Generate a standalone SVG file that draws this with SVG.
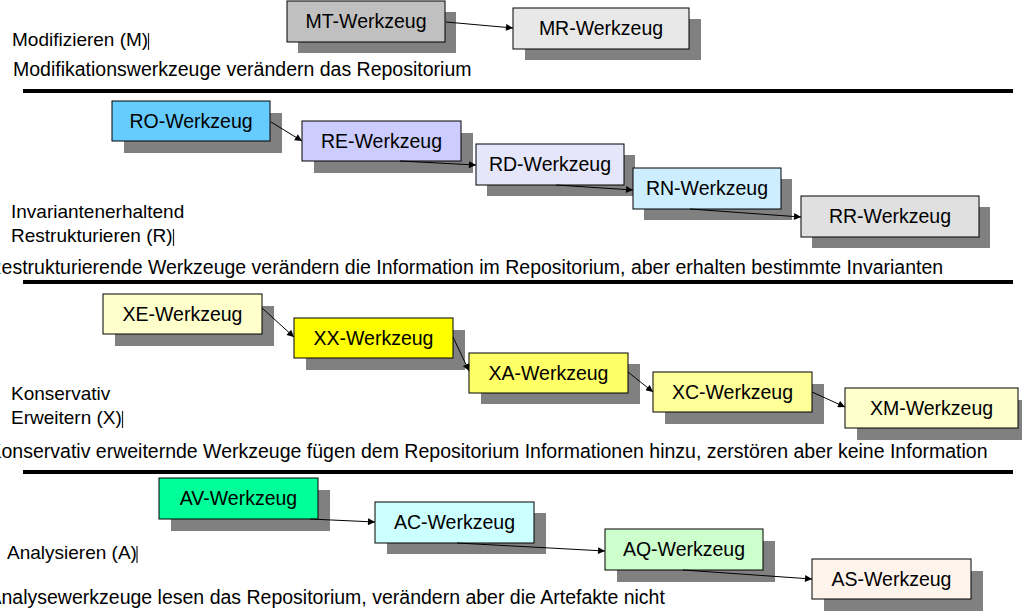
<svg xmlns="http://www.w3.org/2000/svg" width="1022" height="612" viewBox="0 0 1022 612">
  <style>
    text { font-family: "Liberation Sans", Arial, sans-serif; font-size: 19px; fill: #000; }
    .cap { font-size: 19.5px; }
    .box text { text-anchor: middle; font-size: 19.5px; }
    .shadow { fill: #808080; }
    .face { stroke: #000; stroke-width: 1; }
    .sep { stroke: #000; stroke-width: 4; }
    .bar { stroke: #222; stroke-width: 1.2; }
    .conn line { stroke: #000; stroke-width: 1; marker-end: url(#arrow); }
  </style>
  <defs>
    <marker id="arrow" viewBox="0 0 10 10" refX="10" refY="5" markerWidth="9" markerHeight="7" markerUnits="userSpaceOnUse" orient="auto">
      <path d="M0,0 L10,5 L0,10 z" fill="#000"/>
    </marker>
  </defs>
  <rect width="1022" height="612" fill="#fff"/>

  <!-- section labels and captions -->
  <g id="labels">
    <text x="12" y="46">Modifizieren (M)</text>
    <line class="bar" x1="148.5" y1="33" x2="148.5" y2="50"/>
    <text class="cap" x="13" y="76">Modifikationswerkzeuge verändern das Repositorium</text>

    <text x="11" y="218">Invariantenerhaltend</text>
    <text x="11" y="242">Restrukturieren (R)</text>
    <line class="bar" x1="173.5" y1="229" x2="173.5" y2="246"/>
    <text class="cap" x="-12.5" y="274">Restrukturierende Werkzeuge verändern die Information im Repositorium, aber erhalten bestimmte Invarianten</text>

    <text x="11" y="400">Konservativ</text>
    <text x="11" y="424">Erweitern (X)</text>
    <line class="bar" x1="122.5" y1="411" x2="122.5" y2="428"/>
    <text class="cap" x="-11.5" y="458">Konservativ erweiternde Werkzeuge fügen dem Repositorium Informationen hinzu, zerstören aber keine Information</text>

    <text x="7" y="559">Analysieren (A)</text>
    <line class="bar" x1="137" y1="546" x2="137" y2="563"/>
    <text class="cap" x="-11.5" y="604">Analysewerkzeuge lesen das Repositorium, verändern aber die Artefakte nicht</text>
  </g>

  <!-- section separators -->
  <g id="separators">
    <line class="sep" x1="23" y1="91" x2="1013" y2="91"/>
    <line class="sep" x1="23" y1="282" x2="1013" y2="282"/>
    <line class="sep" x1="23" y1="472" x2="1013" y2="472"/>
  </g>

  <!-- Modifizieren -->
  <g id="mt" class="box">
    <rect class="shadow" x="298" y="12" width="158" height="41"/>
    <rect class="face" x="287" y="1" width="158" height="41" fill="#c0c0c0"/>
    <text x="366" y="28">MT-Werkzeug</text>
  </g>
  <g id="mr" class="box">
    <rect class="shadow" x="525" y="19" width="176" height="41"/>
    <rect class="face" x="513" y="8" width="176" height="41" fill="#e8e8e8"/>
    <text x="601" y="35">MR-Werkzeug</text>
  </g>

  <!-- Restrukturieren -->
  <g id="ro" class="box">
    <rect class="shadow" x="124" y="113" width="158" height="40"/>
    <rect class="face" x="112" y="101" width="158" height="40" fill="#66ccff"/>
    <text x="191" y="128">RO-Werkzeug</text>
  </g>
  <g id="re" class="box">
    <rect class="shadow" x="314" y="133" width="159" height="40"/>
    <rect class="face" x="302" y="121" width="159" height="40" fill="#ccccff"/>
    <text x="381.5" y="148">RE-Werkzeug</text>
  </g>
  <g id="rd" class="box">
    <rect class="shadow" x="487" y="155" width="148" height="41"/>
    <rect class="face" x="476" y="144" width="148" height="41" fill="#e6e6fa"/>
    <text x="550" y="171">RD-Werkzeug</text>
  </g>
  <g id="rn" class="box">
    <rect class="shadow" x="644" y="179" width="148" height="41"/>
    <rect class="face" x="633" y="168" width="148" height="41" fill="#cceeff"/>
    <text x="707" y="195">RN-Werkzeug</text>
  </g>
  <g id="rr" class="box">
    <rect class="shadow" x="812" y="207" width="178" height="41"/>
    <rect class="face" x="801" y="196" width="178" height="41" fill="#e0e0e0"/>
    <text x="890" y="223">RR-Werkzeug</text>
  </g>

  <!-- Erweitern -->
  <g id="xe" class="box">
    <rect class="shadow" x="115" y="306" width="159" height="40"/>
    <rect class="face" x="103" y="294" width="159" height="40" fill="#ffffcc"/>
    <text x="182.5" y="321">XE-Werkzeug</text>
  </g>
  <g id="xx" class="box">
    <rect class="shadow" x="306" y="330" width="159" height="40"/>
    <rect class="face" x="294" y="318" width="159" height="40" fill="#ffff00"/>
    <text x="373.5" y="345">XX-Werkzeug</text>
  </g>
  <g id="xa" class="box">
    <rect class="shadow" x="481" y="364" width="159" height="40"/>
    <rect class="face" x="469" y="353" width="159" height="40" fill="#ffff66"/>
    <text x="548.5" y="380">XA-Werkzeug</text>
  </g>
  <g id="xc" class="box">
    <rect class="shadow" x="665" y="384" width="159" height="40"/>
    <rect class="face" x="653" y="372" width="159" height="40" fill="#ffff99"/>
    <text x="732.5" y="399">XC-Werkzeug</text>
  </g>
  <g id="xm" class="box">
    <rect class="shadow" x="857" y="400" width="173" height="40"/>
    <rect class="face" x="845" y="388" width="173" height="40" fill="#ffffcc"/>
    <text x="931.5" y="415">XM-Werkzeug</text>
  </g>

  <!-- Analysieren -->
  <g id="av" class="box">
    <rect class="shadow" x="171" y="490" width="159" height="41"/>
    <rect class="face" x="159" y="478" width="159" height="41" fill="#00ff99"/>
    <text x="238.5" y="505">AV-Werkzeug</text>
  </g>
  <g id="ac" class="box">
    <rect class="shadow" x="387" y="513" width="159" height="41"/>
    <rect class="face" x="375" y="502" width="159" height="41" fill="#ccffff"/>
    <text x="454.5" y="529">AC-Werkzeug</text>
  </g>
  <g id="aq" class="box">
    <rect class="shadow" x="617" y="541" width="158" height="41"/>
    <rect class="face" x="605" y="529" width="158" height="41" fill="#ccffcc"/>
    <text x="684" y="556">AQ-Werkzeug</text>
  </g>
  <g id="as" class="box">
    <rect class="shadow" x="824" y="571" width="159" height="40"/>
    <rect class="face" x="812" y="559" width="159" height="40" fill="#fff4ec"/>
    <text x="891.5" y="586">AS-Werkzeug</text>
  </g>

  <!-- connectors -->
  <g id="connectors" class="conn">
    <line x1="446" y1="22" x2="513" y2="28"/>
    <line x1="271" y1="122" x2="302" y2="141"/>
    <line x1="400" y1="161" x2="476" y2="165"/>
    <line x1="556" y1="185" x2="633" y2="190"/>
    <line x1="690" y1="209" x2="801" y2="217"/>
    <line x1="262" y1="308" x2="294" y2="337"/>
    <line x1="453" y1="337" x2="469" y2="371"/>
    <line x1="628" y1="372" x2="653" y2="392"/>
    <line x1="812" y1="392" x2="845" y2="407"/>
    <line x1="310" y1="519" x2="375" y2="522"/>
    <line x1="457" y1="543" x2="605" y2="551"/>
    <line x1="683" y1="570" x2="812" y2="579"/>
  </g>
</svg>
